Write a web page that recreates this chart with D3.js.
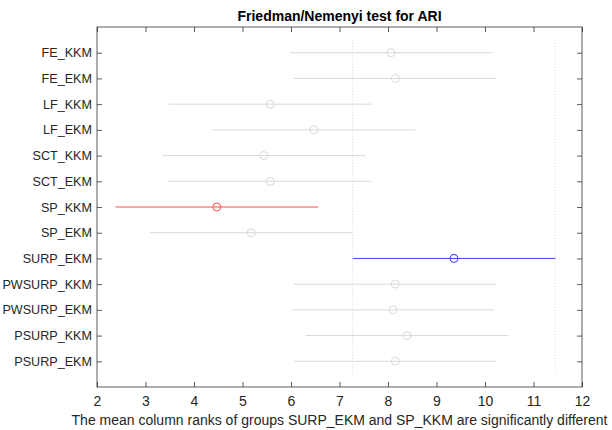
<!DOCTYPE html>
<html lang="en">
<head>
<meta charset="UTF-8">
<script src="https://d3js.org/d3.v7.min.js"></script>
<style>
  body { margin: 0; background: #fff; }
  #plot { position: absolute; width: 612px; height: 430px; }
  text { font-family: "Liberation Sans", Arial, sans-serif; }
</style>
</head>
<body>
<div id="plot">
<script>
  // data
  const groups = ["FE_KKM", "FE_EKM", "LF_KKM", "LF_EKM", "SCT_KKM", "SCT_EKM", "SP_KKM",
                  "SP_EKM", "SURP_EKM", "PWSURP_KKM", "PWSURP_EKM", "PSURP_KKM", "PSURP_EKM"];
  const meanRanks = [8.06, 8.15, 5.57, 6.47, 5.44, 5.57, 4.47, 5.18, 9.36, 8.15, 8.10, 8.39, 8.15];
  const halfWidth = 2.09;
  const xTicks = [2, 3, 4, 5, 6, 7, 8, 9, 10, 11, 12];
  const selected = "SURP_EKM";
  const different = ["SP_KKM"];

  const width = 612, height = 430;
  const margin = {top: 27, right: 30, bottom: 43, left: 97};
  const visWidth = width - margin.left - margin.right;
  const visHeight = height - margin.top - margin.bottom;
  const axisColor = "#262626";

  const svg = d3.select("#plot").append("svg")
      .attr("width", width)
      .attr("height", height);
  const g = svg.append("g")
      .attr("transform", `translate(${margin.left},${margin.top})`);

  const x = d3.scaleLinear().domain([2, 12]).range([0, visWidth]);
  const y = d3.scaleLinear().domain([0, groups.length + 1]).range([0, visHeight]);

  const colorOf = name => name === selected ? "#4040ff"
                        : different.includes(name) ? "#ff4d4d" : "#d9d9d9";

  // dotted bounds of the selected group's interval
  const sel = meanRanks[groups.indexOf(selected)];
  g.selectAll("line.bound")
    .data([sel - halfWidth, sel + halfWidth])
    .join("line")
      .attr("class", "bound")
      .attr("x1", d => x(d)).attr("x2", d => x(d))
      .attr("y1", y(0.5)).attr("y2", y(groups.length + 0.5))
      .attr("stroke", "#d0d0d0")
      .attr("stroke-width", 0.8)
      .attr("stroke-dasharray", "1,2");

  const rows = g.selectAll("g.row")
    .data(groups.map((name, i) => ({name, i, v: meanRanks[i]})))
    .join("g").attr("class", "row");

  rows.append("line")
      .attr("x1", d => x(d.v - halfWidth))
      .attr("x2", d => x(d.v + halfWidth))
      .attr("y1", d => y(d.i + 1)).attr("y2", d => y(d.i + 1))
      .attr("stroke", d => colorOf(d.name))
      .attr("stroke-width", 1);

  rows.append("circle")
      .attr("cx", d => x(d.v))
      .attr("cy", d => y(d.i + 1))
      .attr("r", 4)
      .attr("fill", "none")
      .attr("stroke", d => colorOf(d.name))
      .attr("stroke-width", 1);

  // box
  g.append("rect")
      .attr("width", visWidth).attr("height", visHeight)
      .attr("fill", "none")
      .attr("stroke", axisColor)
      .attr("stroke-opacity", 0.75)
      .attr("stroke-width", 1);

  const style = (sel, size) => sel.call(s => s.select(".domain").remove())
      .call(s => s.selectAll(".tick line").attr("stroke", axisColor).attr("stroke-opacity", 0.75))
      .call(s => s.selectAll(".tick text").attr("fill", axisColor)
            .style("font-size", size).style("font-family", "Liberation Sans, Arial, sans-serif"));

  // x axes (ticks inside, bottom with labels, top without)
  g.append("g")
      .attr("transform", `translate(0,${visHeight})`)
      .call(d3.axisBottom(x).tickValues(xTicks).tickFormat(d3.format("d"))
            .tickSizeInner(-5).tickSizeOuter(0).tickPadding(9))
      .call(style, "14px");
  g.append("g")
      .call(d3.axisTop(x).tickValues(xTicks).tickFormat("")
            .tickSizeInner(-5).tickSizeOuter(0))
      .call(style, "14px");

  // y axes
  const yTicks = d3.range(1, groups.length + 1);
  g.append("g")
      .call(d3.axisLeft(y).tickValues(yTicks).tickFormat(d => groups[d - 1])
            .tickSizeInner(-5).tickSizeOuter(0).tickPadding(5))
      .call(style, "12.6px");
  g.append("g")
      .attr("transform", `translate(${visWidth},0)`)
      .call(d3.axisRight(y).tickValues(yTicks).tickFormat("")
            .tickSizeInner(-5).tickSizeOuter(0))
      .call(style, "14px");

  svg.append("text")
      .attr("x", margin.left + visWidth / 2)
      .attr("y", 20.5)
      .attr("text-anchor", "middle")
      .attr("fill", "#000")
      .style("font-size", "14px")
      .style("font-weight", "bold")
      .text("Friedman/Nemenyi test for ARI");

  svg.append("text")
      .attr("x", margin.left + visWidth / 2)
      .attr("y", 425)
      .attr("text-anchor", "middle")
      .attr("fill", axisColor)
      .style("font-size", "14px")
      .text("The mean column ranks of groups SURP_EKM and SP_KKM are significantly different");
</script>
</div>
</body>
</html>
